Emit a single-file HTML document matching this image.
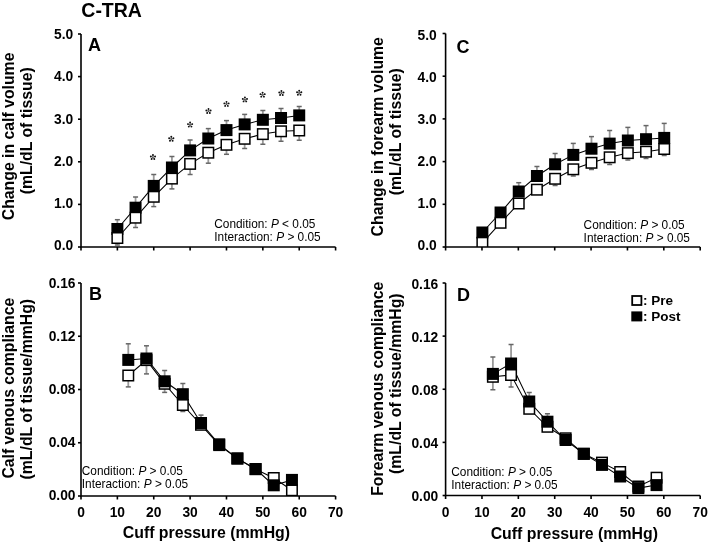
<!DOCTYPE html>
<html><head><meta charset="utf-8"><style>
html,body{margin:0;padding:0;background:#fff;}
svg{display:block;will-change:transform;}
text{font-family:"Liberation Sans",sans-serif;fill:#000;}
.tk{font-size:13.8px;font-weight:bold;}
.title{font-size:19.5px;font-weight:bold;}
.pl{font-size:18px;font-weight:bold;}
.xl{font-size:15.85px;font-weight:bold;}
.yl{font-size:15.8px;font-weight:bold;}
.cd{font-size:11.85px;}
.lg{font-size:13.5px;font-weight:bold;}
.st{font-size:16px;font-weight:bold;}
</style></head><body>
<svg width="709" height="544" viewBox="0 0 709 544">
<rect width="709" height="544" fill="#fff"/>
<line x1="78.0" y1="34.00" x2="81" y2="34.00" stroke="#000" stroke-width="1.6"/>
<text x="73.3" y="39.30" class="tk" text-anchor="end">5.0</text>
<line x1="78.0" y1="76.60" x2="81" y2="76.60" stroke="#000" stroke-width="1.6"/>
<text x="73.3" y="81.48" class="tk" text-anchor="end">4.0</text>
<line x1="78.0" y1="119.20" x2="81" y2="119.20" stroke="#000" stroke-width="1.6"/>
<text x="73.3" y="123.66" class="tk" text-anchor="end">3.0</text>
<line x1="78.0" y1="161.80" x2="81" y2="161.80" stroke="#000" stroke-width="1.6"/>
<text x="73.3" y="165.84" class="tk" text-anchor="end">2.0</text>
<line x1="78.0" y1="204.40" x2="81" y2="204.40" stroke="#000" stroke-width="1.6"/>
<text x="73.3" y="208.02" class="tk" text-anchor="end">1.0</text>
<line x1="78.0" y1="247.00" x2="81" y2="247.00" stroke="#000" stroke-width="1.6"/>
<text x="73.3" y="250.20" class="tk" text-anchor="end">0.0</text>
<line x1="81.00" y1="247" x2="81.00" y2="250.5" stroke="#000" stroke-width="1.6"/>
<line x1="117.37" y1="247" x2="117.37" y2="250.5" stroke="#000" stroke-width="1.6"/>
<line x1="153.74" y1="247" x2="153.74" y2="250.5" stroke="#000" stroke-width="1.6"/>
<line x1="190.11" y1="247" x2="190.11" y2="250.5" stroke="#000" stroke-width="1.6"/>
<line x1="226.48" y1="247" x2="226.48" y2="250.5" stroke="#000" stroke-width="1.6"/>
<line x1="262.85" y1="247" x2="262.85" y2="250.5" stroke="#000" stroke-width="1.6"/>
<line x1="299.22" y1="247" x2="299.22" y2="250.5" stroke="#000" stroke-width="1.6"/>
<line x1="335.59" y1="247" x2="335.59" y2="250.5" stroke="#000" stroke-width="1.6"/>
<clipPath id="cl81_247"><rect x="81" y="-6" width="264.59000000000003" height="253"/></clipPath><g clip-path="url(#cl81_247)">
<line x1="117.37" y1="229.00" x2="117.37" y2="219.70" stroke="#999" stroke-width="1.8"/><line x1="114.87" y1="219.70" x2="119.87" y2="219.70" stroke="#666" stroke-width="1.5"/>
<line x1="135.56" y1="207.70" x2="135.56" y2="197.00" stroke="#999" stroke-width="1.8"/><line x1="133.06" y1="197.00" x2="138.06" y2="197.00" stroke="#666" stroke-width="1.5"/>
<line x1="153.74" y1="185.90" x2="153.74" y2="174.50" stroke="#999" stroke-width="1.8"/><line x1="151.24" y1="174.50" x2="156.24" y2="174.50" stroke="#666" stroke-width="1.5"/>
<line x1="171.93" y1="167.50" x2="171.93" y2="156.50" stroke="#999" stroke-width="1.8"/><line x1="169.43" y1="156.50" x2="174.43" y2="156.50" stroke="#666" stroke-width="1.5"/>
<line x1="190.11" y1="150.40" x2="190.11" y2="140.00" stroke="#999" stroke-width="1.8"/><line x1="187.61" y1="140.00" x2="192.61" y2="140.00" stroke="#666" stroke-width="1.5"/>
<line x1="208.30" y1="138.50" x2="208.30" y2="128.60" stroke="#999" stroke-width="1.8"/><line x1="205.80" y1="128.60" x2="210.80" y2="128.60" stroke="#666" stroke-width="1.5"/>
<line x1="226.48" y1="130.10" x2="226.48" y2="120.60" stroke="#999" stroke-width="1.8"/><line x1="223.98" y1="120.60" x2="228.98" y2="120.60" stroke="#666" stroke-width="1.5"/>
<line x1="244.66" y1="124.40" x2="244.66" y2="114.40" stroke="#999" stroke-width="1.8"/><line x1="242.16" y1="114.40" x2="247.16" y2="114.40" stroke="#666" stroke-width="1.5"/>
<line x1="262.85" y1="119.80" x2="262.85" y2="110.50" stroke="#999" stroke-width="1.8"/><line x1="260.35" y1="110.50" x2="265.35" y2="110.50" stroke="#666" stroke-width="1.5"/>
<line x1="281.03" y1="118.00" x2="281.03" y2="108.60" stroke="#999" stroke-width="1.8"/><line x1="278.53" y1="108.60" x2="283.53" y2="108.60" stroke="#666" stroke-width="1.5"/>
<line x1="299.22" y1="115.40" x2="299.22" y2="106.40" stroke="#999" stroke-width="1.8"/><line x1="296.72" y1="106.40" x2="301.72" y2="106.40" stroke="#666" stroke-width="1.5"/>
<line x1="117.37" y1="238.00" x2="117.37" y2="245.00" stroke="#999" stroke-width="1.8"/><line x1="114.87" y1="245.00" x2="119.87" y2="245.00" stroke="#666" stroke-width="1.5"/>
<line x1="135.56" y1="217.70" x2="135.56" y2="227.50" stroke="#999" stroke-width="1.8"/><line x1="133.06" y1="227.50" x2="138.06" y2="227.50" stroke="#666" stroke-width="1.5"/>
<line x1="153.74" y1="196.80" x2="153.74" y2="206.60" stroke="#999" stroke-width="1.8"/><line x1="151.24" y1="206.60" x2="156.24" y2="206.60" stroke="#666" stroke-width="1.5"/>
<line x1="171.93" y1="178.60" x2="171.93" y2="188.90" stroke="#999" stroke-width="1.8"/><line x1="169.43" y1="188.90" x2="174.43" y2="188.90" stroke="#666" stroke-width="1.5"/>
<line x1="190.11" y1="163.90" x2="190.11" y2="174.50" stroke="#999" stroke-width="1.8"/><line x1="187.61" y1="174.50" x2="192.61" y2="174.50" stroke="#666" stroke-width="1.5"/>
<line x1="208.30" y1="152.70" x2="208.30" y2="163.20" stroke="#999" stroke-width="1.8"/><line x1="205.80" y1="163.20" x2="210.80" y2="163.20" stroke="#666" stroke-width="1.5"/>
<line x1="226.48" y1="144.80" x2="226.48" y2="154.30" stroke="#999" stroke-width="1.8"/><line x1="223.98" y1="154.30" x2="228.98" y2="154.30" stroke="#666" stroke-width="1.5"/>
<line x1="244.66" y1="138.80" x2="244.66" y2="148.50" stroke="#999" stroke-width="1.8"/><line x1="242.16" y1="148.50" x2="247.16" y2="148.50" stroke="#666" stroke-width="1.5"/>
<line x1="262.85" y1="134.10" x2="262.85" y2="144.20" stroke="#999" stroke-width="1.8"/><line x1="260.35" y1="144.20" x2="265.35" y2="144.20" stroke="#666" stroke-width="1.5"/>
<line x1="281.03" y1="131.30" x2="281.03" y2="141.20" stroke="#999" stroke-width="1.8"/><line x1="278.53" y1="141.20" x2="283.53" y2="141.20" stroke="#666" stroke-width="1.5"/>
<line x1="299.22" y1="130.50" x2="299.22" y2="140.30" stroke="#999" stroke-width="1.8"/><line x1="296.72" y1="140.30" x2="301.72" y2="140.30" stroke="#666" stroke-width="1.5"/>
<path d="M117.37,229.00 L135.56,207.70 L153.74,185.90 L171.93,167.50 L190.11,150.40 L208.30,138.50 L226.48,130.10 L244.66,124.40 L262.85,119.80 L281.03,118.00 L299.22,115.40" fill="none" stroke="#000" stroke-width="1.05"/>
<path d="M117.37,238.00 L135.56,217.70 L153.74,196.80 L171.93,178.60 L190.11,163.90 L208.30,152.70 L226.48,144.80 L244.66,138.80 L262.85,134.10 L281.03,131.30 L299.22,130.50" fill="none" stroke="#000" stroke-width="1.05"/>
<rect x="111.37" y="223.00" width="12.0" height="12.0" fill="#000"/>
<rect x="129.56" y="201.70" width="12.0" height="12.0" fill="#000"/>
<rect x="147.74" y="179.90" width="12.0" height="12.0" fill="#000"/>
<rect x="165.93" y="161.50" width="12.0" height="12.0" fill="#000"/>
<rect x="184.11" y="144.40" width="12.0" height="12.0" fill="#000"/>
<rect x="202.30" y="132.50" width="12.0" height="12.0" fill="#000"/>
<rect x="220.48" y="124.10" width="12.0" height="12.0" fill="#000"/>
<rect x="238.66" y="118.40" width="12.0" height="12.0" fill="#000"/>
<rect x="256.85" y="113.80" width="12.0" height="12.0" fill="#000"/>
<rect x="275.03" y="112.00" width="12.0" height="12.0" fill="#000"/>
<rect x="293.22" y="109.40" width="12.0" height="12.0" fill="#000"/>
<rect x="112.12" y="232.75" width="10.5" height="10.5" fill="#fff" stroke="#000" stroke-width="1.5"/>
<rect x="130.31" y="212.45" width="10.5" height="10.5" fill="#fff" stroke="#000" stroke-width="1.5"/>
<rect x="148.49" y="191.55" width="10.5" height="10.5" fill="#fff" stroke="#000" stroke-width="1.5"/>
<rect x="166.68" y="173.35" width="10.5" height="10.5" fill="#fff" stroke="#000" stroke-width="1.5"/>
<rect x="184.86" y="158.65" width="10.5" height="10.5" fill="#fff" stroke="#000" stroke-width="1.5"/>
<rect x="203.05" y="147.45" width="10.5" height="10.5" fill="#fff" stroke="#000" stroke-width="1.5"/>
<rect x="221.23" y="139.55" width="10.5" height="10.5" fill="#fff" stroke="#000" stroke-width="1.5"/>
<rect x="239.41" y="133.55" width="10.5" height="10.5" fill="#fff" stroke="#000" stroke-width="1.5"/>
<rect x="257.60" y="128.85" width="10.5" height="10.5" fill="#fff" stroke="#000" stroke-width="1.5"/>
<rect x="275.78" y="126.05" width="10.5" height="10.5" fill="#fff" stroke="#000" stroke-width="1.5"/>
<rect x="293.97" y="125.25" width="10.5" height="10.5" fill="#fff" stroke="#000" stroke-width="1.5"/>
</g>
<path d="M81,34 V247 H335.59000000000003" fill="none" stroke="#000" stroke-width="1.6"/>
<line x1="78.0" y1="283.00" x2="81" y2="283.00" stroke="#000" stroke-width="1.6"/>
<text x="75.5" y="288.20" class="tk" text-anchor="end">0.16</text>
<line x1="78.0" y1="336.25" x2="81" y2="336.25" stroke="#000" stroke-width="1.6"/>
<text x="75.5" y="341.24" class="tk" text-anchor="end">0.12</text>
<line x1="78.0" y1="389.50" x2="81" y2="389.50" stroke="#000" stroke-width="1.6"/>
<text x="75.5" y="394.28" class="tk" text-anchor="end">0.08</text>
<line x1="78.0" y1="442.75" x2="81" y2="442.75" stroke="#000" stroke-width="1.6"/>
<text x="75.5" y="447.31" class="tk" text-anchor="end">0.04</text>
<line x1="78.0" y1="496.00" x2="81" y2="496.00" stroke="#000" stroke-width="1.6"/>
<text x="75.5" y="500.35" class="tk" text-anchor="end">0.00</text>
<line x1="81.00" y1="496" x2="81.00" y2="499.5" stroke="#000" stroke-width="1.6"/>
<line x1="117.37" y1="496" x2="117.37" y2="499.5" stroke="#000" stroke-width="1.6"/>
<line x1="153.74" y1="496" x2="153.74" y2="499.5" stroke="#000" stroke-width="1.6"/>
<line x1="190.11" y1="496" x2="190.11" y2="499.5" stroke="#000" stroke-width="1.6"/>
<line x1="226.48" y1="496" x2="226.48" y2="499.5" stroke="#000" stroke-width="1.6"/>
<line x1="262.85" y1="496" x2="262.85" y2="499.5" stroke="#000" stroke-width="1.6"/>
<line x1="299.22" y1="496" x2="299.22" y2="499.5" stroke="#000" stroke-width="1.6"/>
<line x1="335.59" y1="496" x2="335.59" y2="499.5" stroke="#000" stroke-width="1.6"/>
<clipPath id="cl81_496"><rect x="81" y="243" width="264.59000000000003" height="253"/></clipPath><g clip-path="url(#cl81_496)">
<line x1="128.28" y1="359.90" x2="128.28" y2="343.80" stroke="#999" stroke-width="1.8"/><line x1="125.78" y1="343.80" x2="130.78" y2="343.80" stroke="#666" stroke-width="1.5"/>
<line x1="146.47" y1="358.50" x2="146.47" y2="345.80" stroke="#999" stroke-width="1.8"/><line x1="143.97" y1="345.80" x2="148.97" y2="345.80" stroke="#666" stroke-width="1.5"/>
<line x1="164.65" y1="381.30" x2="164.65" y2="370.50" stroke="#999" stroke-width="1.8"/><line x1="162.15" y1="370.50" x2="167.15" y2="370.50" stroke="#666" stroke-width="1.5"/>
<line x1="182.84" y1="394.20" x2="182.84" y2="383.50" stroke="#999" stroke-width="1.8"/><line x1="180.34" y1="383.50" x2="185.34" y2="383.50" stroke="#666" stroke-width="1.5"/>
<line x1="201.02" y1="423.00" x2="201.02" y2="415.10" stroke="#999" stroke-width="1.8"/><line x1="198.52" y1="415.10" x2="203.52" y2="415.10" stroke="#666" stroke-width="1.5"/>
<line x1="128.28" y1="375.50" x2="128.28" y2="386.90" stroke="#999" stroke-width="1.8"/><line x1="125.78" y1="386.90" x2="130.78" y2="386.90" stroke="#666" stroke-width="1.5"/>
<line x1="146.47" y1="360.10" x2="146.47" y2="373.90" stroke="#999" stroke-width="1.8"/><line x1="143.97" y1="373.90" x2="148.97" y2="373.90" stroke="#666" stroke-width="1.5"/>
<line x1="164.65" y1="383.80" x2="164.65" y2="392.40" stroke="#999" stroke-width="1.8"/><line x1="162.15" y1="392.40" x2="167.15" y2="392.40" stroke="#666" stroke-width="1.5"/>
<line x1="182.84" y1="405.00" x2="182.84" y2="411.50" stroke="#999" stroke-width="1.8"/><line x1="180.34" y1="411.50" x2="185.34" y2="411.50" stroke="#666" stroke-width="1.5"/>
<path d="M128.28,359.90 L146.47,358.50 L164.65,381.30 L182.84,394.20 L201.02,423.00 L219.21,444.30 L237.39,458.40 L255.58,469.00 L273.76,485.30 L291.95,479.90" fill="none" stroke="#000" stroke-width="1.05"/>
<path d="M128.28,375.50 L146.47,360.10 L164.65,383.80 L182.84,405.00 L201.02,424.80 L219.21,445.10 L237.39,458.60 L255.58,469.20 L273.76,478.00 L291.95,490.30" fill="none" stroke="#000" stroke-width="1.05"/>
<rect x="123.03" y="370.25" width="10.5" height="10.5" fill="#fff" stroke="#000" stroke-width="1.5"/>
<rect x="141.22" y="354.85" width="10.5" height="10.5" fill="#fff" stroke="#000" stroke-width="1.5"/>
<rect x="159.40" y="378.55" width="10.5" height="10.5" fill="#fff" stroke="#000" stroke-width="1.5"/>
<rect x="177.59" y="399.75" width="10.5" height="10.5" fill="#fff" stroke="#000" stroke-width="1.5"/>
<rect x="195.77" y="419.55" width="10.5" height="10.5" fill="#fff" stroke="#000" stroke-width="1.5"/>
<rect x="213.96" y="439.85" width="10.5" height="10.5" fill="#fff" stroke="#000" stroke-width="1.5"/>
<rect x="232.14" y="453.35" width="10.5" height="10.5" fill="#fff" stroke="#000" stroke-width="1.5"/>
<rect x="250.33" y="463.95" width="10.5" height="10.5" fill="#fff" stroke="#000" stroke-width="1.5"/>
<rect x="268.51" y="472.75" width="10.5" height="10.5" fill="#fff" stroke="#000" stroke-width="1.5"/>
<rect x="286.70" y="485.05" width="10.5" height="10.5" fill="#fff" stroke="#000" stroke-width="1.5"/>
<rect x="122.28" y="353.90" width="12.0" height="12.0" fill="#000"/>
<rect x="140.47" y="352.50" width="12.0" height="12.0" fill="#000"/>
<rect x="158.65" y="375.30" width="12.0" height="12.0" fill="#000"/>
<rect x="176.84" y="388.20" width="12.0" height="12.0" fill="#000"/>
<rect x="195.02" y="417.00" width="12.0" height="12.0" fill="#000"/>
<rect x="213.21" y="438.30" width="12.0" height="12.0" fill="#000"/>
<rect x="231.39" y="452.40" width="12.0" height="12.0" fill="#000"/>
<rect x="249.58" y="463.00" width="12.0" height="12.0" fill="#000"/>
<rect x="267.76" y="479.30" width="12.0" height="12.0" fill="#000"/>
<rect x="285.95" y="473.90" width="12.0" height="12.0" fill="#000"/>
</g>
<path d="M81,283 V496 H335.59000000000003" fill="none" stroke="#000" stroke-width="1.6"/>
<line x1="442.6" y1="33.50" x2="445.6" y2="33.50" stroke="#000" stroke-width="1.6"/>
<text x="436.8" y="39.50" class="tk" text-anchor="end">5.0</text>
<line x1="442.6" y1="76.20" x2="445.6" y2="76.20" stroke="#000" stroke-width="1.6"/>
<text x="436.8" y="81.62" class="tk" text-anchor="end">4.0</text>
<line x1="442.6" y1="118.90" x2="445.6" y2="118.90" stroke="#000" stroke-width="1.6"/>
<text x="436.8" y="123.74" class="tk" text-anchor="end">3.0</text>
<line x1="442.6" y1="161.60" x2="445.6" y2="161.60" stroke="#000" stroke-width="1.6"/>
<text x="436.8" y="165.86" class="tk" text-anchor="end">2.0</text>
<line x1="442.6" y1="204.30" x2="445.6" y2="204.30" stroke="#000" stroke-width="1.6"/>
<text x="436.8" y="207.98" class="tk" text-anchor="end">1.0</text>
<line x1="442.6" y1="247.00" x2="445.6" y2="247.00" stroke="#000" stroke-width="1.6"/>
<text x="436.8" y="250.10" class="tk" text-anchor="end">0.0</text>
<line x1="445.60" y1="247" x2="445.60" y2="250.5" stroke="#000" stroke-width="1.6"/>
<line x1="481.97" y1="247" x2="481.97" y2="250.5" stroke="#000" stroke-width="1.6"/>
<line x1="518.34" y1="247" x2="518.34" y2="250.5" stroke="#000" stroke-width="1.6"/>
<line x1="554.71" y1="247" x2="554.71" y2="250.5" stroke="#000" stroke-width="1.6"/>
<line x1="591.08" y1="247" x2="591.08" y2="250.5" stroke="#000" stroke-width="1.6"/>
<line x1="627.45" y1="247" x2="627.45" y2="250.5" stroke="#000" stroke-width="1.6"/>
<line x1="663.82" y1="247" x2="663.82" y2="250.5" stroke="#000" stroke-width="1.6"/>
<line x1="700.19" y1="247" x2="700.19" y2="250.5" stroke="#000" stroke-width="1.6"/>
<clipPath id="cl445_247"><rect x="445.6" y="-6.5" width="264.59000000000003" height="253.5"/></clipPath><g clip-path="url(#cl445_247)">
<line x1="518.74" y1="191.50" x2="518.74" y2="182.70" stroke="#999" stroke-width="1.8"/><line x1="516.24" y1="182.70" x2="521.24" y2="182.70" stroke="#666" stroke-width="1.5"/>
<line x1="536.92" y1="176.00" x2="536.92" y2="166.50" stroke="#999" stroke-width="1.8"/><line x1="534.42" y1="166.50" x2="539.42" y2="166.50" stroke="#666" stroke-width="1.5"/>
<line x1="555.11" y1="164.30" x2="555.11" y2="153.50" stroke="#999" stroke-width="1.8"/><line x1="552.61" y1="153.50" x2="557.61" y2="153.50" stroke="#666" stroke-width="1.5"/>
<line x1="573.29" y1="154.90" x2="573.29" y2="143.40" stroke="#999" stroke-width="1.8"/><line x1="570.79" y1="143.40" x2="575.79" y2="143.40" stroke="#666" stroke-width="1.5"/>
<line x1="591.48" y1="148.70" x2="591.48" y2="136.60" stroke="#999" stroke-width="1.8"/><line x1="588.98" y1="136.60" x2="593.98" y2="136.60" stroke="#666" stroke-width="1.5"/>
<line x1="609.66" y1="143.60" x2="609.66" y2="130.50" stroke="#999" stroke-width="1.8"/><line x1="607.16" y1="130.50" x2="612.16" y2="130.50" stroke="#666" stroke-width="1.5"/>
<line x1="627.85" y1="140.50" x2="627.85" y2="127.40" stroke="#999" stroke-width="1.8"/><line x1="625.35" y1="127.40" x2="630.35" y2="127.40" stroke="#666" stroke-width="1.5"/>
<line x1="646.03" y1="139.20" x2="646.03" y2="125.60" stroke="#999" stroke-width="1.8"/><line x1="643.53" y1="125.60" x2="648.53" y2="125.60" stroke="#666" stroke-width="1.5"/>
<line x1="664.22" y1="137.90" x2="664.22" y2="123.40" stroke="#999" stroke-width="1.8"/><line x1="661.72" y1="123.40" x2="666.72" y2="123.40" stroke="#666" stroke-width="1.5"/>
<line x1="555.11" y1="178.80" x2="555.11" y2="185.50" stroke="#999" stroke-width="1.8"/><line x1="552.61" y1="185.50" x2="557.61" y2="185.50" stroke="#666" stroke-width="1.5"/>
<line x1="573.29" y1="169.30" x2="573.29" y2="176.00" stroke="#999" stroke-width="1.8"/><line x1="570.79" y1="176.00" x2="575.79" y2="176.00" stroke="#666" stroke-width="1.5"/>
<line x1="591.48" y1="162.80" x2="591.48" y2="169.50" stroke="#999" stroke-width="1.8"/><line x1="588.98" y1="169.50" x2="593.98" y2="169.50" stroke="#666" stroke-width="1.5"/>
<line x1="609.66" y1="157.30" x2="609.66" y2="164.50" stroke="#999" stroke-width="1.8"/><line x1="607.16" y1="164.50" x2="612.16" y2="164.50" stroke="#666" stroke-width="1.5"/>
<line x1="627.85" y1="153.10" x2="627.85" y2="160.00" stroke="#999" stroke-width="1.8"/><line x1="625.35" y1="160.00" x2="630.35" y2="160.00" stroke="#666" stroke-width="1.5"/>
<line x1="646.03" y1="151.70" x2="646.03" y2="158.50" stroke="#999" stroke-width="1.8"/><line x1="643.53" y1="158.50" x2="648.53" y2="158.50" stroke="#666" stroke-width="1.5"/>
<line x1="664.22" y1="149.00" x2="664.22" y2="155.50" stroke="#999" stroke-width="1.8"/><line x1="661.72" y1="155.50" x2="666.72" y2="155.50" stroke="#666" stroke-width="1.5"/>
<path d="M482.37,232.50 L500.56,212.50 L518.74,191.50 L536.92,176.00 L555.11,164.30 L573.29,154.90 L591.48,148.70 L609.66,143.60 L627.85,140.50 L646.03,139.20 L664.22,137.90" fill="none" stroke="#000" stroke-width="1.05"/>
<path d="M482.37,242.80 L500.56,222.80 L518.74,203.50 L536.92,189.70 L555.11,178.80 L573.29,169.30 L591.48,162.80 L609.66,157.30 L627.85,153.10 L646.03,151.70 L664.22,149.00" fill="none" stroke="#000" stroke-width="1.05"/>
<rect x="476.37" y="226.50" width="12.0" height="12.0" fill="#000"/>
<rect x="494.56" y="206.50" width="12.0" height="12.0" fill="#000"/>
<rect x="512.74" y="185.50" width="12.0" height="12.0" fill="#000"/>
<rect x="530.92" y="170.00" width="12.0" height="12.0" fill="#000"/>
<rect x="549.11" y="158.30" width="12.0" height="12.0" fill="#000"/>
<rect x="567.29" y="148.90" width="12.0" height="12.0" fill="#000"/>
<rect x="585.48" y="142.70" width="12.0" height="12.0" fill="#000"/>
<rect x="603.66" y="137.60" width="12.0" height="12.0" fill="#000"/>
<rect x="621.85" y="134.50" width="12.0" height="12.0" fill="#000"/>
<rect x="640.03" y="133.20" width="12.0" height="12.0" fill="#000"/>
<rect x="658.22" y="131.90" width="12.0" height="12.0" fill="#000"/>
<rect x="477.12" y="237.55" width="10.5" height="10.5" fill="#fff" stroke="#000" stroke-width="1.5"/>
<rect x="495.31" y="217.55" width="10.5" height="10.5" fill="#fff" stroke="#000" stroke-width="1.5"/>
<rect x="513.49" y="198.25" width="10.5" height="10.5" fill="#fff" stroke="#000" stroke-width="1.5"/>
<rect x="531.67" y="184.45" width="10.5" height="10.5" fill="#fff" stroke="#000" stroke-width="1.5"/>
<rect x="549.86" y="173.55" width="10.5" height="10.5" fill="#fff" stroke="#000" stroke-width="1.5"/>
<rect x="568.04" y="164.05" width="10.5" height="10.5" fill="#fff" stroke="#000" stroke-width="1.5"/>
<rect x="586.23" y="157.55" width="10.5" height="10.5" fill="#fff" stroke="#000" stroke-width="1.5"/>
<rect x="604.41" y="152.05" width="10.5" height="10.5" fill="#fff" stroke="#000" stroke-width="1.5"/>
<rect x="622.60" y="147.85" width="10.5" height="10.5" fill="#fff" stroke="#000" stroke-width="1.5"/>
<rect x="640.78" y="146.45" width="10.5" height="10.5" fill="#fff" stroke="#000" stroke-width="1.5"/>
<rect x="658.97" y="143.75" width="10.5" height="10.5" fill="#fff" stroke="#000" stroke-width="1.5"/>
</g>
<path d="M445.6,33.5 V247 H700.19" fill="none" stroke="#000" stroke-width="1.6"/>
<line x1="442.6" y1="283.00" x2="445.6" y2="283.00" stroke="#000" stroke-width="1.6"/>
<text x="438.3" y="288.60" class="tk" text-anchor="end">0.16</text>
<line x1="442.6" y1="336.12" x2="445.6" y2="336.12" stroke="#000" stroke-width="1.6"/>
<text x="438.3" y="341.60" class="tk" text-anchor="end">0.12</text>
<line x1="442.6" y1="389.25" x2="445.6" y2="389.25" stroke="#000" stroke-width="1.6"/>
<text x="438.3" y="394.60" class="tk" text-anchor="end">0.08</text>
<line x1="442.6" y1="442.38" x2="445.6" y2="442.38" stroke="#000" stroke-width="1.6"/>
<text x="438.3" y="447.60" class="tk" text-anchor="end">0.04</text>
<line x1="442.6" y1="495.50" x2="445.6" y2="495.50" stroke="#000" stroke-width="1.6"/>
<text x="438.3" y="500.60" class="tk" text-anchor="end">0.00</text>
<line x1="445.60" y1="495.5" x2="445.60" y2="499.0" stroke="#000" stroke-width="1.6"/>
<line x1="481.97" y1="495.5" x2="481.97" y2="499.0" stroke="#000" stroke-width="1.6"/>
<line x1="518.34" y1="495.5" x2="518.34" y2="499.0" stroke="#000" stroke-width="1.6"/>
<line x1="554.71" y1="495.5" x2="554.71" y2="499.0" stroke="#000" stroke-width="1.6"/>
<line x1="591.08" y1="495.5" x2="591.08" y2="499.0" stroke="#000" stroke-width="1.6"/>
<line x1="627.45" y1="495.5" x2="627.45" y2="499.0" stroke="#000" stroke-width="1.6"/>
<line x1="663.82" y1="495.5" x2="663.82" y2="499.0" stroke="#000" stroke-width="1.6"/>
<line x1="700.19" y1="495.5" x2="700.19" y2="499.0" stroke="#000" stroke-width="1.6"/>
<clipPath id="cl445_495"><rect x="445.6" y="243" width="264.59000000000003" height="252.5"/></clipPath><g clip-path="url(#cl445_495)">
<line x1="492.88" y1="373.90" x2="492.88" y2="357.00" stroke="#999" stroke-width="1.8"/><line x1="490.38" y1="357.00" x2="495.38" y2="357.00" stroke="#666" stroke-width="1.5"/>
<line x1="511.07" y1="363.50" x2="511.07" y2="344.40" stroke="#999" stroke-width="1.8"/><line x1="508.57" y1="344.40" x2="513.57" y2="344.40" stroke="#666" stroke-width="1.5"/>
<line x1="529.25" y1="401.50" x2="529.25" y2="392.60" stroke="#999" stroke-width="1.8"/><line x1="526.75" y1="392.60" x2="531.75" y2="392.60" stroke="#666" stroke-width="1.5"/>
<line x1="547.44" y1="421.70" x2="547.44" y2="413.70" stroke="#999" stroke-width="1.8"/><line x1="544.94" y1="413.70" x2="549.94" y2="413.70" stroke="#666" stroke-width="1.5"/>
<line x1="492.88" y1="376.80" x2="492.88" y2="389.80" stroke="#999" stroke-width="1.8"/><line x1="490.38" y1="389.80" x2="495.38" y2="389.80" stroke="#666" stroke-width="1.5"/>
<line x1="511.07" y1="375.00" x2="511.07" y2="386.90" stroke="#999" stroke-width="1.8"/><line x1="508.57" y1="386.90" x2="513.57" y2="386.90" stroke="#666" stroke-width="1.5"/>
<path d="M492.88,373.90 L511.07,363.50 L529.25,401.50 L547.44,421.70 L565.62,440.00 L583.81,453.80 L601.99,464.90 L620.18,476.50 L638.36,488.10 L656.55,485.10" fill="none" stroke="#000" stroke-width="1.05"/>
<path d="M492.88,376.80 L511.07,375.00 L529.25,408.80 L547.44,426.80 L565.62,438.30 L583.81,453.80 L601.99,462.60 L620.18,472.00 L638.36,486.50 L656.55,477.70" fill="none" stroke="#000" stroke-width="1.05"/>
<rect x="487.63" y="371.55" width="10.5" height="10.5" fill="#fff" stroke="#000" stroke-width="1.5"/>
<rect x="505.82" y="369.75" width="10.5" height="10.5" fill="#fff" stroke="#000" stroke-width="1.5"/>
<rect x="524.00" y="403.55" width="10.5" height="10.5" fill="#fff" stroke="#000" stroke-width="1.5"/>
<rect x="542.19" y="421.55" width="10.5" height="10.5" fill="#fff" stroke="#000" stroke-width="1.5"/>
<rect x="560.37" y="433.05" width="10.5" height="10.5" fill="#fff" stroke="#000" stroke-width="1.5"/>
<rect x="578.56" y="448.55" width="10.5" height="10.5" fill="#fff" stroke="#000" stroke-width="1.5"/>
<rect x="596.74" y="457.35" width="10.5" height="10.5" fill="#fff" stroke="#000" stroke-width="1.5"/>
<rect x="614.93" y="466.75" width="10.5" height="10.5" fill="#fff" stroke="#000" stroke-width="1.5"/>
<rect x="633.11" y="481.25" width="10.5" height="10.5" fill="#fff" stroke="#000" stroke-width="1.5"/>
<rect x="651.30" y="472.45" width="10.5" height="10.5" fill="#fff" stroke="#000" stroke-width="1.5"/>
<rect x="486.88" y="367.90" width="12.0" height="12.0" fill="#000"/>
<rect x="505.07" y="357.50" width="12.0" height="12.0" fill="#000"/>
<rect x="523.25" y="395.50" width="12.0" height="12.0" fill="#000"/>
<rect x="541.44" y="415.70" width="12.0" height="12.0" fill="#000"/>
<rect x="559.62" y="434.00" width="12.0" height="12.0" fill="#000"/>
<rect x="577.81" y="447.80" width="12.0" height="12.0" fill="#000"/>
<rect x="595.99" y="458.90" width="12.0" height="12.0" fill="#000"/>
<rect x="614.18" y="470.50" width="12.0" height="12.0" fill="#000"/>
<rect x="632.36" y="482.10" width="12.0" height="12.0" fill="#000"/>
<rect x="650.55" y="479.10" width="12.0" height="12.0" fill="#000"/>
</g>
<path d="M445.6,283 V495.5 H700.19" fill="none" stroke="#000" stroke-width="1.6"/>
<g><line x1="152.95" y1="157.20" x2="152.95" y2="154.60" stroke="#222" stroke-width="0.6"/><circle cx="152.95" cy="154.95" r="0.95" fill="#111"/><line x1="152.95" y1="157.20" x2="155.42" y2="156.40" stroke="#222" stroke-width="0.6"/><circle cx="155.09" cy="156.50" r="0.95" fill="#111"/><line x1="152.95" y1="157.20" x2="154.48" y2="159.30" stroke="#222" stroke-width="0.6"/><circle cx="154.27" cy="159.02" r="0.95" fill="#111"/><line x1="152.95" y1="157.20" x2="151.42" y2="159.30" stroke="#222" stroke-width="0.6"/><circle cx="151.63" cy="159.02" r="0.95" fill="#111"/><line x1="152.95" y1="157.20" x2="150.48" y2="156.40" stroke="#222" stroke-width="0.6"/><circle cx="150.81" cy="156.50" r="0.95" fill="#111"/></g>
<g><line x1="171.30" y1="139.00" x2="171.30" y2="136.40" stroke="#222" stroke-width="0.6"/><circle cx="171.30" cy="136.75" r="0.95" fill="#111"/><line x1="171.30" y1="139.00" x2="173.77" y2="138.20" stroke="#222" stroke-width="0.6"/><circle cx="173.44" cy="138.30" r="0.95" fill="#111"/><line x1="171.30" y1="139.00" x2="172.83" y2="141.10" stroke="#222" stroke-width="0.6"/><circle cx="172.62" cy="140.82" r="0.95" fill="#111"/><line x1="171.30" y1="139.00" x2="169.77" y2="141.10" stroke="#222" stroke-width="0.6"/><circle cx="169.98" cy="140.82" r="0.95" fill="#111"/><line x1="171.30" y1="139.00" x2="168.83" y2="138.20" stroke="#222" stroke-width="0.6"/><circle cx="169.16" cy="138.30" r="0.95" fill="#111"/></g>
<g><line x1="190.10" y1="124.80" x2="190.10" y2="122.20" stroke="#222" stroke-width="0.6"/><circle cx="190.10" cy="122.55" r="0.95" fill="#111"/><line x1="190.10" y1="124.80" x2="192.57" y2="124.00" stroke="#222" stroke-width="0.6"/><circle cx="192.24" cy="124.10" r="0.95" fill="#111"/><line x1="190.10" y1="124.80" x2="191.63" y2="126.90" stroke="#222" stroke-width="0.6"/><circle cx="191.42" cy="126.62" r="0.95" fill="#111"/><line x1="190.10" y1="124.80" x2="188.57" y2="126.90" stroke="#222" stroke-width="0.6"/><circle cx="188.78" cy="126.62" r="0.95" fill="#111"/><line x1="190.10" y1="124.80" x2="187.63" y2="124.00" stroke="#222" stroke-width="0.6"/><circle cx="187.96" cy="124.10" r="0.95" fill="#111"/></g>
<g><line x1="208.50" y1="111.20" x2="208.50" y2="108.60" stroke="#222" stroke-width="0.6"/><circle cx="208.50" cy="108.95" r="0.95" fill="#111"/><line x1="208.50" y1="111.20" x2="210.97" y2="110.40" stroke="#222" stroke-width="0.6"/><circle cx="210.64" cy="110.50" r="0.95" fill="#111"/><line x1="208.50" y1="111.20" x2="210.03" y2="113.30" stroke="#222" stroke-width="0.6"/><circle cx="209.82" cy="113.02" r="0.95" fill="#111"/><line x1="208.50" y1="111.20" x2="206.97" y2="113.30" stroke="#222" stroke-width="0.6"/><circle cx="207.18" cy="113.02" r="0.95" fill="#111"/><line x1="208.50" y1="111.20" x2="206.03" y2="110.40" stroke="#222" stroke-width="0.6"/><circle cx="206.36" cy="110.50" r="0.95" fill="#111"/></g>
<g><line x1="226.50" y1="104.10" x2="226.50" y2="101.50" stroke="#222" stroke-width="0.6"/><circle cx="226.50" cy="101.85" r="0.95" fill="#111"/><line x1="226.50" y1="104.10" x2="228.97" y2="103.30" stroke="#222" stroke-width="0.6"/><circle cx="228.64" cy="103.40" r="0.95" fill="#111"/><line x1="226.50" y1="104.10" x2="228.03" y2="106.20" stroke="#222" stroke-width="0.6"/><circle cx="227.82" cy="105.92" r="0.95" fill="#111"/><line x1="226.50" y1="104.10" x2="224.97" y2="106.20" stroke="#222" stroke-width="0.6"/><circle cx="225.18" cy="105.92" r="0.95" fill="#111"/><line x1="226.50" y1="104.10" x2="224.03" y2="103.30" stroke="#222" stroke-width="0.6"/><circle cx="224.36" cy="103.40" r="0.95" fill="#111"/></g>
<g><line x1="244.90" y1="99.60" x2="244.90" y2="97.00" stroke="#222" stroke-width="0.6"/><circle cx="244.90" cy="97.35" r="0.95" fill="#111"/><line x1="244.90" y1="99.60" x2="247.37" y2="98.80" stroke="#222" stroke-width="0.6"/><circle cx="247.04" cy="98.90" r="0.95" fill="#111"/><line x1="244.90" y1="99.60" x2="246.43" y2="101.70" stroke="#222" stroke-width="0.6"/><circle cx="246.22" cy="101.42" r="0.95" fill="#111"/><line x1="244.90" y1="99.60" x2="243.37" y2="101.70" stroke="#222" stroke-width="0.6"/><circle cx="243.58" cy="101.42" r="0.95" fill="#111"/><line x1="244.90" y1="99.60" x2="242.43" y2="98.80" stroke="#222" stroke-width="0.6"/><circle cx="242.76" cy="98.90" r="0.95" fill="#111"/></g>
<g><line x1="262.60" y1="94.85" x2="262.60" y2="92.25" stroke="#222" stroke-width="0.6"/><circle cx="262.60" cy="92.60" r="0.95" fill="#111"/><line x1="262.60" y1="94.85" x2="265.07" y2="94.05" stroke="#222" stroke-width="0.6"/><circle cx="264.74" cy="94.15" r="0.95" fill="#111"/><line x1="262.60" y1="94.85" x2="264.13" y2="96.95" stroke="#222" stroke-width="0.6"/><circle cx="263.92" cy="96.67" r="0.95" fill="#111"/><line x1="262.60" y1="94.85" x2="261.07" y2="96.95" stroke="#222" stroke-width="0.6"/><circle cx="261.28" cy="96.67" r="0.95" fill="#111"/><line x1="262.60" y1="94.85" x2="260.13" y2="94.05" stroke="#222" stroke-width="0.6"/><circle cx="260.46" cy="94.15" r="0.95" fill="#111"/></g>
<g><line x1="281.40" y1="93.20" x2="281.40" y2="90.60" stroke="#222" stroke-width="0.6"/><circle cx="281.40" cy="90.95" r="0.95" fill="#111"/><line x1="281.40" y1="93.20" x2="283.87" y2="92.40" stroke="#222" stroke-width="0.6"/><circle cx="283.54" cy="92.50" r="0.95" fill="#111"/><line x1="281.40" y1="93.20" x2="282.93" y2="95.30" stroke="#222" stroke-width="0.6"/><circle cx="282.72" cy="95.02" r="0.95" fill="#111"/><line x1="281.40" y1="93.20" x2="279.87" y2="95.30" stroke="#222" stroke-width="0.6"/><circle cx="280.08" cy="95.02" r="0.95" fill="#111"/><line x1="281.40" y1="93.20" x2="278.93" y2="92.40" stroke="#222" stroke-width="0.6"/><circle cx="279.26" cy="92.50" r="0.95" fill="#111"/></g>
<g><line x1="299.20" y1="92.90" x2="299.20" y2="90.30" stroke="#222" stroke-width="0.6"/><circle cx="299.20" cy="90.65" r="0.95" fill="#111"/><line x1="299.20" y1="92.90" x2="301.67" y2="92.10" stroke="#222" stroke-width="0.6"/><circle cx="301.34" cy="92.20" r="0.95" fill="#111"/><line x1="299.20" y1="92.90" x2="300.73" y2="95.00" stroke="#222" stroke-width="0.6"/><circle cx="300.52" cy="94.72" r="0.95" fill="#111"/><line x1="299.20" y1="92.90" x2="297.67" y2="95.00" stroke="#222" stroke-width="0.6"/><circle cx="297.88" cy="94.72" r="0.95" fill="#111"/><line x1="299.20" y1="92.90" x2="296.73" y2="92.10" stroke="#222" stroke-width="0.6"/><circle cx="297.06" cy="92.20" r="0.95" fill="#111"/></g>
<text x="81.00" y="516.5" class="tk" text-anchor="middle">0</text>
<text x="117.37" y="516.5" class="tk" text-anchor="middle">10</text>
<text x="153.74" y="516.5" class="tk" text-anchor="middle">20</text>
<text x="190.11" y="516.5" class="tk" text-anchor="middle">30</text>
<text x="226.48" y="516.5" class="tk" text-anchor="middle">40</text>
<text x="262.85" y="516.5" class="tk" text-anchor="middle">50</text>
<text x="299.22" y="516.5" class="tk" text-anchor="middle">60</text>
<text x="335.59" y="516.5" class="tk" text-anchor="middle">70</text>
<text x="445.60" y="516.5" class="tk" text-anchor="middle">0</text>
<text x="481.97" y="516.5" class="tk" text-anchor="middle">10</text>
<text x="518.34" y="516.5" class="tk" text-anchor="middle">20</text>
<text x="554.71" y="516.5" class="tk" text-anchor="middle">30</text>
<text x="591.08" y="516.5" class="tk" text-anchor="middle">40</text>
<text x="627.45" y="516.5" class="tk" text-anchor="middle">50</text>
<text x="663.82" y="516.5" class="tk" text-anchor="middle">60</text>
<text x="700.19" y="516.5" class="tk" text-anchor="middle">70</text>

<text x="81.3" y="16.8" class="title">C-TRA</text>
<text x="87.9" y="51.1" class="pl">A</text>
<text x="89" y="299.5" class="pl">B</text>
<text x="456.5" y="52.7" class="pl">C</text>
<text x="457" y="301" class="pl">D</text>
<text x="206.4" y="538" class="xl" text-anchor="middle">Cuff pressure (mmHg)</text>
<text x="574.3" y="538.5" class="xl" text-anchor="middle">Cuff pressure (mmHg)</text>
<g transform="translate(14.1,136.4) rotate(-90)"><text class="yl" text-anchor="middle">Change in calf volume</text></g>
<g transform="translate(32,130.8) rotate(-90)"><text class="yl" text-anchor="middle">(mL/dL of tissue)</text></g>
<g transform="translate(382.6,136.75) rotate(-90)"><text class="yl" text-anchor="middle">Change in forearm volume</text></g>
<g transform="translate(400.5,131.8) rotate(-90)"><text class="yl" text-anchor="middle">(mL/dL of tissue)</text></g>
<g transform="translate(14.1,388.2) rotate(-90)"><text class="yl" text-anchor="middle">Calf venous compliance</text></g>
<g transform="translate(32,389.2) rotate(-90)"><text class="yl" text-anchor="middle">(mL/dL of tissue/mmHg)</text></g>
<g transform="translate(382.6,388.7) rotate(-90)"><text class="yl" text-anchor="middle">Forearm venous compliance</text></g>
<g transform="translate(400.5,383.7) rotate(-90)"><text class="yl" text-anchor="middle">(mL/dL of tissue/mmHg)</text></g>
<text x="214.3" y="227.9" class="cd">Condition: <tspan font-style="italic">P</tspan> &lt; 0.05</text>
<text x="214.3" y="240.9" class="cd">Interaction: <tspan font-style="italic">P</tspan> &gt; 0.05</text>
<text x="583.6" y="228.6" class="cd">Condition: <tspan font-style="italic">P</tspan> &gt; 0.05</text>
<text x="583.6" y="241.6" class="cd">Interaction: <tspan font-style="italic">P</tspan> &gt; 0.05</text>
<text x="81.8" y="475.0" class="cd">Condition: <tspan font-style="italic">P</tspan> &gt; 0.05</text>
<text x="81.8" y="488.1" class="cd">Interaction: <tspan font-style="italic">P</tspan> &gt; 0.05</text>
<text x="451.3" y="475.5" class="cd">Condition: <tspan font-style="italic">P</tspan> &gt; 0.05</text>
<text x="451.3" y="488.6" class="cd">Interaction: <tspan font-style="italic">P</tspan> &gt; 0.05</text>
<rect x="632.2" y="296" width="9.2" height="9" fill="#fff" stroke="#000" stroke-width="1.8"/>
<rect x="631.3" y="311.4" width="11" height="10" fill="#000"/>
<text x="643" y="305.1" class="lg">: Pre</text>
<text x="643" y="320.8" class="lg">: Post</text>

</svg>
</body></html>
